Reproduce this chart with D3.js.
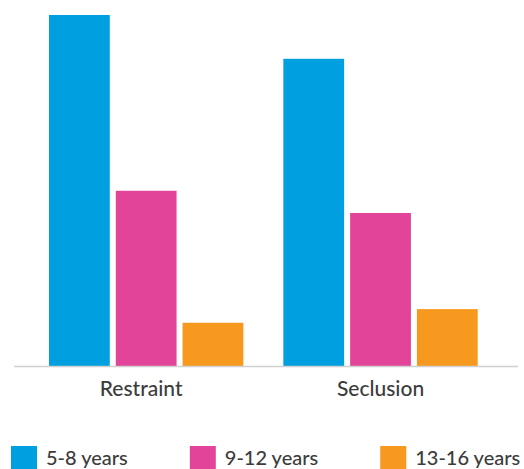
<!DOCTYPE html>
<html>
<head>
<meta charset="utf-8">
<script src="https://cdn.jsdelivr.net/npm/d3@7"></script>
<style>
  html, body { margin: 0; padding: 0; background: #fff; }
  svg { display: block; }
  text { font-family: "Lato", sans-serif; fill: #3c3c3c; }
</style>
</head>
<body>
<svg id="chart" width="524" height="469"></svg>
<script>
const categories = ["Restraint", "Seclusion"];
const seriesNames = ["5-8 years", "9-12 years", "13-16 years"];
const restraintValues = [61.7, 30.8, 7.6];
const seclusionValues = [54.0, 26.9, 10.0];
const seriesColors = ["#009fdf", "#e2449a", "#f7981f"];

(function () {
const data = categories.map((c, i) => ({
  category: c,
  values: (i === 0 ? restraintValues : seclusionValues).map((v, j) => ({ series: seriesNames[j], value: v }))
}));

const svg = d3.select("#chart");
const baseline = 366, plotTop = 15;
const fontWeight = 500;

const x0 = d3.scaleBand().domain(categories).range([49, 477.7]).paddingInner(0.1707).paddingOuter(0);
const x1 = d3.scaleBand().domain(seriesNames).range([0, x0.bandwidth()]).paddingInner(0.09).paddingOuter(0);
const y = d3.scaleLinear().domain([0, d3.max([...restraintValues, ...seclusionValues])]).range([baseline, plotTop]);
const color = d3.scaleOrdinal().domain(seriesNames).range(seriesColors);

// bars
const groups = svg.append("g").selectAll("g").data(data).join("g")
  .attr("transform", d => `translate(${x0(d.category)},0)`);
groups.selectAll("rect").data(d => d.values).join("rect")
  .attr("x", d => x1(d.series))
  .attr("y", d => y(d.value))
  .attr("width", x1.bandwidth())
  .attr("height", d => baseline - y(d.value))
  .attr("fill", d => color(d.series));

// axis
const xAxis = d3.axisBottom(x0).tickSize(0).tickPadding(0);
const axisG = svg.append("g").attr("transform", `translate(0,${baseline})`).call(xAxis);
axisG.select(".domain").remove();
axisG.append("line").attr("x1", 14).attr("x2", 518).attr("y1", 0.5).attr("y2", 0.5)
  .attr("stroke", "#d0d0d0").attr("stroke-width", 1.5);
axisG.selectAll(".tick text")
  .attr("y", 30).attr("dy", 0)
  .attr("dx", (d, i) => i === 0 ? -5 : 0)
  .attr("font-family", "Lato, sans-serif")
  .attr("font-size", 21)
  .attr("font-weight", fontWeight)
  .attr("fill", "#3c3c3c");

// legend
const legend = svg.append("g");
let lx = 11;
seriesNames.forEach(s => {
  const g = legend.append("g").attr("transform", `translate(${lx},0)`);
  g.append("rect").attr("x", 0).attr("y", 446).attr("width", 26).attr("height", 26).attr("fill", color(s));
  const t = g.append("text").attr("x", 35).attr("y", 465)
    .attr("font-size", 20).attr("font-weight", fontWeight).text(s);
  lx += 35 + t.node().getComputedTextLength() + 62;
});
})();
</script>
</body>
</html>
